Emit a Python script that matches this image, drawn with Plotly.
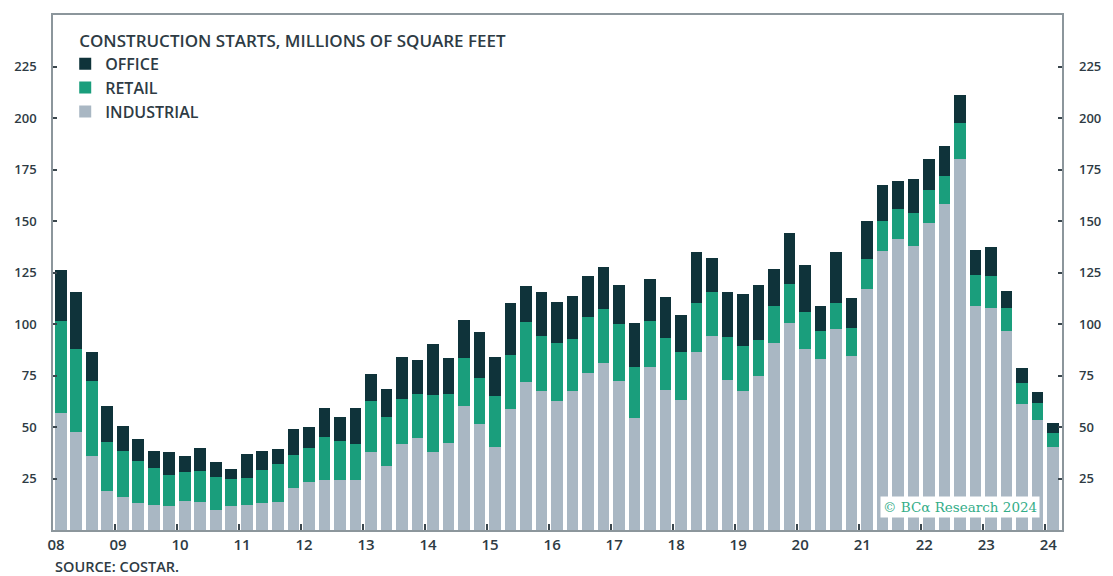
import plotly.graph_objects as go

# ---- data (millions of sq ft, quarterly 2008Q1 .. 2024Q1) ----
years = list(range(2008, 2025))
quarters = [f"{y}Q{q}" for y in years for q in range(1, 5)][:65]

industrial = [56.6, 47.7, 36.1, 18.9, 16.2, 12.9, 12.1, 11.8, 14.1, 13.4, 9.7, 11.7, 12.0, 13.3, 13.8, 20.5,
              23.1, 24.3, 24.3, 24.3, 37.7, 31.1, 41.6, 44.8, 38.0, 42.1, 60.2, 51.5, 40.1, 58.7, 71.7, 67.6,
              62.6, 67.5, 76.1, 80.9, 72.5, 54.2, 79.3, 68.0, 63.1, 86.6, 94.3, 72.8, 67.5, 74.9, 90.6, 100.3,
              87.7, 83.2, 97.4, 84.6, 117.0, 135.6, 141.3, 138.0, 149.2, 158.1, 179.9, 108.9, 107.6, 96.8, 61.2, 53.4,
              40.1]
retail = [44.9, 40.2, 36.4, 23.7, 22.1, 20.6, 18.2, 14.9, 13.9, 15.2, 16.2, 13.1, 13.1, 15.7, 18.1, 16.1,
          16.7, 21.0, 19.1, 17.3, 25.1, 23.6, 22.0, 21.1, 27.5, 23.9, 23.1, 22.4, 24.9, 26.2, 29.1, 26.7,
          28.3, 25.1, 27.1, 26.4, 27.5, 24.8, 22.2, 25.0, 23.2, 23.4, 21.4, 21.0, 22.0, 17.3, 18.1, 19.0,
          18.0, 13.6, 12.6, 13.6, 14.6, 14.4, 14.5, 15.7, 15.8, 13.9, 17.8, 14.9, 15.9, 10.8, 10.3, 8.4,
          6.8]
office = [24.7, 27.5, 13.9, 17.8, 12.2, 10.5, 8.0, 11.0, 7.8, 11.4, 7.0, 5.0, 11.9, 9.3, 7.4, 12.6,
          10.0, 13.8, 11.6, 17.5, 12.8, 13.6, 20.5, 16.6, 24.8, 17.7, 18.6, 22.1, 18.8, 25.1, 17.6, 21.1,
          19.6, 21.1, 20.1, 20.2, 18.9, 21.6, 20.3, 20.0, 18.1, 24.8, 16.5, 21.9, 25.1, 26.7, 17.8, 24.7,
          22.9, 11.7, 24.8, 14.6, 18.4, 17.5, 13.6, 16.7, 15.1, 14.4, 13.5, 12.1, 14.0, 8.6, 7.0, 5.3,
          4.9]

year_ticks = years
year_labels = [f"{y % 100:02d}" for y in years]
y_ticks = [25, 50, 75, 100, 125, 150, 175, 200, 225]

# quarter centre positions on a numeric year axis
xpos = [int(q[:4]) + (int(q[-1]) - 1) / 4 + 0.125 for q in quarters]

C_OFFICE = "#0f333a"
C_RETAIL = "#1a9e7c"
C_IND = "#a9b7c3"
TXT = "#2e3b44"
AXC = "#8c969c"
FONT = "Open Sans"

fig = go.Figure()
fig.add_trace(go.Bar(x=xpos, y=industrial, name="INDUSTRIAL", marker=dict(color=C_IND, line=dict(width=0))))
fig.add_trace(go.Bar(x=xpos, y=retail, name="RETAIL", marker=dict(color=C_RETAIL, line=dict(width=0))))
fig.add_trace(go.Bar(x=xpos, y=office, name="OFFICE", marker=dict(color=C_OFFICE, line=dict(width=0))))
# invisible helper trace so the right-hand axis is drawn
fig.add_trace(go.Scatter(x=[xpos[0]], y=[0], yaxis="y2", mode="markers",
                         marker=dict(opacity=0), showlegend=False, hoverinfo="skip"))

fig.update_layout(
    width=1113, height=576,
    barmode="stack", bargap=0.25,
    plot_bgcolor="white", paper_bgcolor="white",
    margin=dict(l=53, r=43, t=15, b=46),
    font=dict(family=FONT, color=TXT, size=14, weight=600),
    showlegend=True,
    legend=dict(
        x=0.024, y=0.981, xanchor="left", yanchor="top",
        traceorder="reversed",
        title=dict(text="CONSTRUCTION STARTS, MILLIONS OF SQUARE FEET",
                   font=dict(size=17, color=TXT, family=FONT, weight=600), side="top"),
        font=dict(size=16, color=TXT, family=FONT, weight=600),
        bgcolor="rgba(0,0,0,0)", indentation=-12, tracegroupgap=0,
    ),
    xaxis=dict(
        range=[2008.0, 2024.27], tickvals=year_ticks, ticktext=year_labels,
        ticks="inside", ticklen=6, tickwidth=1.5, tickcolor="#3a464d",
        showline=True, linecolor=AXC, linewidth=1.5, mirror=True,
        showgrid=False, zeroline=False, ticklabelshift=3, ticklabelstandoff=0,
        tickfont=dict(size=15, color=TXT, family=FONT, weight=600),
    ),
    yaxis=dict(
        range=[0, 250], tickvals=y_ticks,
        ticks="inside", ticklen=4, tickwidth=1.5, tickcolor="#3a464d",
        showline=True, linecolor=AXC, linewidth=1.5, mirror=True,
        showgrid=False, zeroline=False, ticklabelstandoff=12,
        tickfont=dict(size=13, color=TXT, family=FONT, weight=600),
    ),
    yaxis2=dict(
        range=[0, 250], tickvals=y_ticks, overlaying="y", side="right", anchor="x",
        ticks="inside", ticklen=4, tickwidth=1.5, tickcolor="#3a464d",
        showline=False, showgrid=False, zeroline=False, ticklabelstandoff=16,
        tickfont=dict(size=13, color=TXT, family=FONT, weight=600),
    ),
    annotations=[
        dict(text="SOURCE: COSTAR.", xref="paper", yref="paper", x=0.0, y=-0.07,
             xanchor="left", yanchor="middle", showarrow=False,
             font=dict(size=14.5, color=TXT, family=FONT, weight=600)),
        dict(text="© BCα Research 2024", xref="paper", yref="paper", x=0.899, y=0.045,
             xanchor="center", yanchor="middle", showarrow=False, bgcolor="white", borderpad=2,
             font=dict(size=13.5, color="#34ad88", family="DejaVu Serif", weight=400)),
    ],
)

fig.write_html("out.html", config={"displayModeBar": False},
               post_script="document.body.style.margin='0';document.body.style.padding='0';document.body.style.overflow='hidden';")
